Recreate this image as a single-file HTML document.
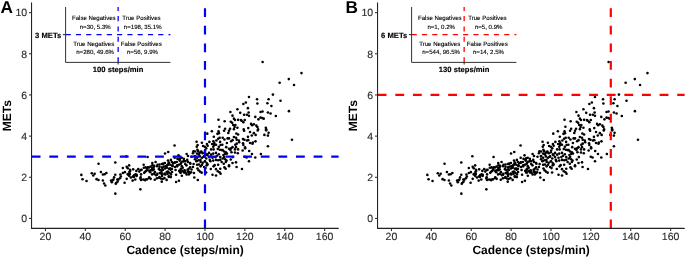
<!DOCTYPE html>
<html><head><meta charset="utf-8"><style>
html,body{margin:0;padding:0;background:#fff;}
svg{display:block;will-change:transform;}
text{font-family:"Liberation Sans",sans-serif;text-rendering:geometricPrecision;}
.tk{font-size:10.5px;fill:#2a2a2a;stroke:#2a2a2a;stroke-width:0.12px;}
.ti{font-size:12px;font-weight:bold;fill:#000;}
.lab{font-size:17.2px;font-weight:bold;fill:#000;}
.it{font-size:7.65px;font-weight:bold;fill:#000;stroke:#000;stroke-width:0.15px;}
.sm{font-size:6.1px;fill:#000;stroke:#000;stroke-width:0.12px;}
</style></head><body>
<svg width="685" height="257" viewBox="0 0 685 257">
<rect width="685" height="257" fill="#fff"/>
<g><g fill="#000">
<circle cx="98.53" cy="163.77" r="1.3"/>
<circle cx="115.28" cy="162.51" r="1.3"/>
<circle cx="81.36" cy="174.90" r="1.3"/>
<circle cx="82.55" cy="179.31" r="1.3"/>
<circle cx="86.55" cy="180.93" r="1.3"/>
<circle cx="91.80" cy="173.22" r="1.3"/>
<circle cx="94.68" cy="173.71" r="1.3"/>
<circle cx="93.28" cy="175.46" r="1.3"/>
<circle cx="96.57" cy="179.17" r="1.3"/>
<circle cx="98.46" cy="180.01" r="1.3"/>
<circle cx="100.91" cy="171.96" r="1.3"/>
<circle cx="102.88" cy="174.55" r="1.3"/>
<circle cx="104.63" cy="174.27" r="1.3"/>
<circle cx="106.38" cy="173.01" r="1.3"/>
<circle cx="102.88" cy="180.51" r="1.3"/>
<circle cx="104.07" cy="183.52" r="1.3"/>
<circle cx="115.28" cy="174.76" r="1.3"/>
<circle cx="114.09" cy="177.42" r="1.3"/>
<circle cx="113.39" cy="179.45" r="1.3"/>
<circle cx="111.07" cy="180.58" r="1.3"/>
<circle cx="111.78" cy="182.26" r="1.3"/>
<circle cx="116.19" cy="183.03" r="1.3"/>
<circle cx="118.29" cy="179.66" r="1.3"/>
<circle cx="119.90" cy="178.26" r="1.3"/>
<circle cx="120.88" cy="176.51" r="1.3"/>
<circle cx="120.39" cy="174.55" r="1.3"/>
<circle cx="122.85" cy="167.96" r="1.3"/>
<circle cx="122.85" cy="173.01" r="1.3"/>
<circle cx="124.81" cy="172.17" r="1.3"/>
<circle cx="124.60" cy="182.82" r="1.3"/>
<circle cx="105.33" cy="185.54" r="1.3"/>
<circle cx="115.35" cy="193.67" r="1.3"/>
<circle cx="126.35" cy="156.27" r="1.3"/>
<circle cx="147.58" cy="156.97" r="1.3"/>
<circle cx="165.03" cy="153.47" r="1.3"/>
<circle cx="168.25" cy="152.06" r="1.3"/>
<circle cx="129.15" cy="165.38" r="1.3"/>
<circle cx="143.66" cy="164.68" r="1.3"/>
<circle cx="152.28" cy="163.07" r="1.3"/>
<circle cx="152.49" cy="165.17" r="1.3"/>
<circle cx="155.57" cy="162.01" r="1.3"/>
<circle cx="157.53" cy="164.82" r="1.3"/>
<circle cx="159.49" cy="164.47" r="1.3"/>
<circle cx="163.14" cy="163.77" r="1.3"/>
<circle cx="164.89" cy="163.07" r="1.3"/>
<circle cx="168.04" cy="160.61" r="1.3"/>
<circle cx="168.88" cy="162.86" r="1.3"/>
<circle cx="170.29" cy="164.82" r="1.3"/>
<circle cx="167.34" cy="165.17" r="1.3"/>
<circle cx="171.90" cy="162.01" r="1.3"/>
<circle cx="173.30" cy="163.28" r="1.3"/>
<circle cx="126.70" cy="166.70" r="1.3"/>
<circle cx="127.75" cy="168.28" r="1.3"/>
<circle cx="129.92" cy="169.68" r="1.3"/>
<circle cx="130.20" cy="170.91" r="1.3"/>
<circle cx="133.18" cy="169.33" r="1.3"/>
<circle cx="136.34" cy="170.91" r="1.3"/>
<circle cx="138.26" cy="169.15" r="1.3"/>
<circle cx="139.31" cy="171.61" r="1.3"/>
<circle cx="140.72" cy="170.03" r="1.3"/>
<circle cx="141.59" cy="169.85" r="1.3"/>
<circle cx="143.87" cy="167.75" r="1.3"/>
<circle cx="145.62" cy="167.40" r="1.3"/>
<circle cx="147.02" cy="168.10" r="1.3"/>
<circle cx="147.90" cy="167.23" r="1.3"/>
<circle cx="144.22" cy="172.83" r="1.3"/>
<circle cx="145.09" cy="171.78" r="1.3"/>
<circle cx="146.15" cy="170.91" r="1.3"/>
<circle cx="147.37" cy="169.85" r="1.3"/>
<circle cx="149.30" cy="170.91" r="1.3"/>
<circle cx="127.75" cy="174.41" r="1.3"/>
<circle cx="129.85" cy="173.88" r="1.3"/>
<circle cx="135.46" cy="174.41" r="1.3"/>
<circle cx="141.07" cy="174.41" r="1.3"/>
<circle cx="150.53" cy="166.53" r="1.3"/>
<circle cx="152.10" cy="168.10" r="1.3"/>
<circle cx="153.50" cy="167.40" r="1.3"/>
<circle cx="153.85" cy="169.50" r="1.3"/>
<circle cx="152.10" cy="170.20" r="1.3"/>
<circle cx="150.70" cy="170.20" r="1.3"/>
<circle cx="154.91" cy="171.96" r="1.3"/>
<circle cx="154.20" cy="174.06" r="1.3"/>
<circle cx="152.10" cy="174.41" r="1.3"/>
<circle cx="157.01" cy="174.76" r="1.3"/>
<circle cx="159.46" cy="166.70" r="1.3"/>
<circle cx="160.51" cy="170.20" r="1.3"/>
<circle cx="159.11" cy="169.15" r="1.3"/>
<circle cx="161.56" cy="171.96" r="1.3"/>
<circle cx="159.81" cy="173.01" r="1.3"/>
<circle cx="162.26" cy="174.41" r="1.3"/>
<circle cx="161.91" cy="167.40" r="1.3"/>
<circle cx="165.07" cy="168.45" r="1.3"/>
<circle cx="166.82" cy="167.75" r="1.3"/>
<circle cx="168.92" cy="168.80" r="1.3"/>
<circle cx="168.22" cy="171.96" r="1.3"/>
<circle cx="169.62" cy="173.01" r="1.3"/>
<circle cx="167.52" cy="174.06" r="1.3"/>
<circle cx="171.02" cy="174.41" r="1.3"/>
<circle cx="171.90" cy="168.98" r="1.3"/>
<circle cx="172.07" cy="171.96" r="1.3"/>
<circle cx="164.72" cy="173.71" r="1.3"/>
<circle cx="157.01" cy="166.18" r="1.3"/>
<circle cx="126.70" cy="178.85" r="1.3"/>
<circle cx="130.91" cy="177.45" r="1.3"/>
<circle cx="132.66" cy="180.61" r="1.3"/>
<circle cx="140.36" cy="178.50" r="1.3"/>
<circle cx="141.07" cy="180.05" r="1.3"/>
<circle cx="143.17" cy="179.55" r="1.3"/>
<circle cx="145.06" cy="180.26" r="1.3"/>
<circle cx="147.02" cy="179.34" r="1.3"/>
<circle cx="149.12" cy="177.94" r="1.3"/>
<circle cx="150.67" cy="178.85" r="1.3"/>
<circle cx="154.73" cy="179.76" r="1.3"/>
<circle cx="156.83" cy="178.36" r="1.3"/>
<circle cx="158.93" cy="177.80" r="1.3"/>
<circle cx="160.90" cy="178.50" r="1.3"/>
<circle cx="162.58" cy="179.06" r="1.3"/>
<circle cx="164.40" cy="178.15" r="1.3"/>
<circle cx="161.74" cy="181.66" r="1.3"/>
<circle cx="166.64" cy="179.91" r="1.3"/>
<circle cx="170.85" cy="177.10" r="1.3"/>
<circle cx="140.36" cy="189.36" r="1.3"/>
<circle cx="136.51" cy="176.05" r="1.3"/>
<circle cx="174.56" cy="145.56" r="1.3"/>
<circle cx="196.56" cy="141.77" r="1.3"/>
<circle cx="197.68" cy="145.07" r="1.3"/>
<circle cx="196.77" cy="146.82" r="1.3"/>
<circle cx="201.89" cy="142.82" r="1.3"/>
<circle cx="203.08" cy="145.98" r="1.3"/>
<circle cx="204.83" cy="146.82" r="1.3"/>
<circle cx="206.93" cy="144.01" r="1.3"/>
<circle cx="207.64" cy="145.77" r="1.3"/>
<circle cx="209.39" cy="141.91" r="1.3"/>
<circle cx="207.28" cy="133.64" r="1.3"/>
<circle cx="211.84" cy="131.26" r="1.3"/>
<circle cx="213.80" cy="136.80" r="1.3"/>
<circle cx="213.38" cy="141.21" r="1.3"/>
<circle cx="214.29" cy="143.17" r="1.3"/>
<circle cx="212.19" cy="144.01" r="1.3"/>
<circle cx="214.08" cy="145.07" r="1.3"/>
<circle cx="216.04" cy="144.72" r="1.3"/>
<circle cx="213.24" cy="146.82" r="1.3"/>
<circle cx="216.39" cy="140.51" r="1.3"/>
<circle cx="218.15" cy="138.76" r="1.3"/>
<circle cx="219.69" cy="137.71" r="1.3"/>
<circle cx="217.45" cy="133.85" r="1.3"/>
<circle cx="218.99" cy="133.15" r="1.3"/>
<circle cx="218.50" cy="131.40" r="1.3"/>
<circle cx="220.11" cy="141.91" r="1.3"/>
<circle cx="218.85" cy="146.68" r="1.3"/>
<circle cx="220.60" cy="145.07" r="1.3"/>
<circle cx="218.50" cy="119.71" r="1.3"/>
<circle cx="219.41" cy="126.72" r="1.3"/>
<circle cx="206.23" cy="148.35" r="1.3"/>
<circle cx="211.14" cy="149.40" r="1.3"/>
<circle cx="213.59" cy="149.40" r="1.3"/>
<circle cx="217.80" cy="149.05" r="1.3"/>
<circle cx="219.90" cy="149.75" r="1.3"/>
<circle cx="221.65" cy="150.10" r="1.3"/>
<circle cx="195.02" cy="151.50" r="1.3"/>
<circle cx="198.18" cy="151.15" r="1.3"/>
<circle cx="201.33" cy="151.50" r="1.3"/>
<circle cx="192.92" cy="153.26" r="1.3"/>
<circle cx="186.61" cy="153.96" r="1.3"/>
<circle cx="188.01" cy="156.06" r="1.3"/>
<circle cx="178.55" cy="155.36" r="1.3"/>
<circle cx="197.12" cy="153.61" r="1.3"/>
<circle cx="199.58" cy="152.91" r="1.3"/>
<circle cx="202.73" cy="153.26" r="1.3"/>
<circle cx="204.83" cy="152.20" r="1.3"/>
<circle cx="206.93" cy="154.31" r="1.3"/>
<circle cx="209.04" cy="152.91" r="1.3"/>
<circle cx="211.14" cy="154.66" r="1.3"/>
<circle cx="213.24" cy="153.61" r="1.3"/>
<circle cx="216.04" cy="152.91" r="1.3"/>
<circle cx="218.85" cy="154.31" r="1.3"/>
<circle cx="217.09" cy="155.71" r="1.3"/>
<circle cx="220.25" cy="157.11" r="1.3"/>
<circle cx="215.34" cy="157.11" r="1.3"/>
<circle cx="212.54" cy="157.81" r="1.3"/>
<circle cx="191.52" cy="156.76" r="1.3"/>
<circle cx="195.02" cy="156.41" r="1.3"/>
<circle cx="197.12" cy="157.81" r="1.3"/>
<circle cx="199.93" cy="156.41" r="1.3"/>
<circle cx="202.03" cy="157.81" r="1.3"/>
<circle cx="204.13" cy="156.41" r="1.3"/>
<circle cx="206.23" cy="158.51" r="1.3"/>
<circle cx="209.04" cy="157.11" r="1.3"/>
<circle cx="174.70" cy="157.81" r="1.3"/>
<circle cx="177.50" cy="158.86" r="1.3"/>
<circle cx="181.71" cy="157.81" r="1.3"/>
<circle cx="183.81" cy="158.86" r="1.3"/>
<circle cx="179.61" cy="160.61" r="1.3"/>
<circle cx="176.80" cy="162.01" r="1.3"/>
<circle cx="174.70" cy="162.72" r="1.3"/>
<circle cx="181.01" cy="163.07" r="1.3"/>
<circle cx="178.91" cy="164.82" r="1.3"/>
<circle cx="185.21" cy="161.31" r="1.3"/>
<circle cx="188.01" cy="162.01" r="1.3"/>
<circle cx="190.12" cy="163.07" r="1.3"/>
<circle cx="195.02" cy="159.21" r="1.3"/>
<circle cx="196.42" cy="161.31" r="1.3"/>
<circle cx="198.53" cy="160.26" r="1.3"/>
<circle cx="200.63" cy="162.01" r="1.3"/>
<circle cx="202.73" cy="162.72" r="1.3"/>
<circle cx="204.83" cy="161.31" r="1.3"/>
<circle cx="206.93" cy="163.42" r="1.3"/>
<circle cx="210.44" cy="161.31" r="1.3"/>
<circle cx="213.24" cy="160.61" r="1.3"/>
<circle cx="216.04" cy="159.91" r="1.3"/>
<circle cx="218.15" cy="160.26" r="1.3"/>
<circle cx="220.25" cy="159.91" r="1.3"/>
<circle cx="221.65" cy="162.01" r="1.3"/>
<circle cx="193.62" cy="164.12" r="1.3"/>
<circle cx="197.12" cy="164.82" r="1.3"/>
<circle cx="202.03" cy="164.82" r="1.3"/>
<circle cx="207.64" cy="164.47" r="1.3"/>
<circle cx="214.64" cy="165.17" r="1.3"/>
<circle cx="218.15" cy="164.82" r="1.3"/>
<circle cx="175.05" cy="167.05" r="1.3"/>
<circle cx="177.15" cy="166.35" r="1.3"/>
<circle cx="179.26" cy="170.91" r="1.3"/>
<circle cx="181.01" cy="168.80" r="1.3"/>
<circle cx="182.76" cy="167.75" r="1.3"/>
<circle cx="180.66" cy="172.66" r="1.3"/>
<circle cx="182.41" cy="170.91" r="1.3"/>
<circle cx="184.51" cy="170.20" r="1.3"/>
<circle cx="185.56" cy="172.66" r="1.3"/>
<circle cx="186.61" cy="174.41" r="1.3"/>
<circle cx="188.01" cy="171.61" r="1.3"/>
<circle cx="188.72" cy="168.80" r="1.3"/>
<circle cx="190.12" cy="167.40" r="1.3"/>
<circle cx="191.52" cy="169.50" r="1.3"/>
<circle cx="192.92" cy="167.05" r="1.3"/>
<circle cx="189.77" cy="173.36" r="1.3"/>
<circle cx="193.97" cy="173.01" r="1.3"/>
<circle cx="197.47" cy="168.45" r="1.3"/>
<circle cx="198.53" cy="170.20" r="1.3"/>
<circle cx="199.93" cy="171.61" r="1.3"/>
<circle cx="201.68" cy="172.66" r="1.3"/>
<circle cx="200.63" cy="166.35" r="1.3"/>
<circle cx="204.13" cy="167.05" r="1.3"/>
<circle cx="205.53" cy="168.10" r="1.3"/>
<circle cx="206.09" cy="172.52" r="1.3"/>
<circle cx="210.79" cy="168.94" r="1.3"/>
<circle cx="216.04" cy="169.15" r="1.3"/>
<circle cx="217.80" cy="171.26" r="1.3"/>
<circle cx="219.55" cy="172.31" r="1.3"/>
<circle cx="220.60" cy="173.71" r="1.3"/>
<circle cx="220.25" cy="168.80" r="1.3"/>
<circle cx="213.59" cy="166.35" r="1.3"/>
<circle cx="212.54" cy="174.76" r="1.3"/>
<circle cx="216.04" cy="175.46" r="1.3"/>
<circle cx="176.10" cy="174.76" r="1.3"/>
<circle cx="181.85" cy="175.81" r="1.3"/>
<circle cx="194.32" cy="177.56" r="1.3"/>
<circle cx="197.82" cy="180.01" r="1.3"/>
<circle cx="176.10" cy="181.98" r="1.3"/>
<circle cx="178.91" cy="180.72" r="1.3"/>
<circle cx="224.45" cy="167.40" r="1.3"/>
<circle cx="225.64" cy="168.80" r="1.3"/>
<circle cx="229.01" cy="166.21" r="1.3"/>
<circle cx="236.58" cy="167.05" r="1.3"/>
<circle cx="241.97" cy="168.94" r="1.3"/>
<circle cx="222.70" cy="150.10" r="1.3"/>
<circle cx="224.10" cy="151.50" r="1.3"/>
<circle cx="225.85" cy="152.20" r="1.3"/>
<circle cx="225.15" cy="153.96" r="1.3"/>
<circle cx="223.40" cy="155.01" r="1.3"/>
<circle cx="226.91" cy="153.61" r="1.3"/>
<circle cx="229.01" cy="148.70" r="1.3"/>
<circle cx="230.41" cy="150.10" r="1.3"/>
<circle cx="231.46" cy="152.20" r="1.3"/>
<circle cx="231.11" cy="148.35" r="1.3"/>
<circle cx="234.96" cy="149.40" r="1.3"/>
<circle cx="238.12" cy="149.40" r="1.3"/>
<circle cx="234.96" cy="152.55" r="1.3"/>
<circle cx="237.77" cy="153.26" r="1.3"/>
<circle cx="242.67" cy="150.45" r="1.3"/>
<circle cx="245.12" cy="148.35" r="1.3"/>
<circle cx="249.19" cy="150.94" r="1.3"/>
<circle cx="251.99" cy="153.96" r="1.3"/>
<circle cx="255.28" cy="157.46" r="1.3"/>
<circle cx="260.89" cy="153.96" r="1.3"/>
<circle cx="244.77" cy="156.76" r="1.3"/>
<circle cx="246.53" cy="157.46" r="1.3"/>
<circle cx="248.98" cy="161.31" r="1.3"/>
<circle cx="232.86" cy="157.11" r="1.3"/>
<circle cx="230.76" cy="159.56" r="1.3"/>
<circle cx="222.70" cy="158.51" r="1.3"/>
<circle cx="225.15" cy="159.21" r="1.3"/>
<circle cx="226.55" cy="160.61" r="1.3"/>
<circle cx="224.10" cy="157.11" r="1.3"/>
<circle cx="232.51" cy="163.07" r="1.3"/>
<circle cx="236.01" cy="162.36" r="1.3"/>
<circle cx="223.75" cy="163.77" r="1.3"/>
<circle cx="229.01" cy="165.38" r="1.3"/>
<circle cx="225.85" cy="162.01" r="1.3"/>
<circle cx="224.10" cy="130.70" r="1.3"/>
<circle cx="229.01" cy="130.70" r="1.3"/>
<circle cx="228.31" cy="132.94" r="1.3"/>
<circle cx="236.36" cy="133.50" r="1.3"/>
<circle cx="238.12" cy="134.55" r="1.3"/>
<circle cx="222.70" cy="137.71" r="1.3"/>
<circle cx="224.45" cy="139.46" r="1.3"/>
<circle cx="227.61" cy="138.41" r="1.3"/>
<circle cx="229.01" cy="138.41" r="1.3"/>
<circle cx="231.11" cy="141.21" r="1.3"/>
<circle cx="232.51" cy="140.16" r="1.3"/>
<circle cx="233.91" cy="137.01" r="1.3"/>
<circle cx="236.01" cy="137.71" r="1.3"/>
<circle cx="236.72" cy="139.81" r="1.3"/>
<circle cx="238.82" cy="140.51" r="1.3"/>
<circle cx="239.17" cy="142.26" r="1.3"/>
<circle cx="226.91" cy="142.96" r="1.3"/>
<circle cx="222.35" cy="144.72" r="1.3"/>
<circle cx="235.31" cy="144.72" r="1.3"/>
<circle cx="236.72" cy="143.66" r="1.3"/>
<circle cx="243.02" cy="139.11" r="1.3"/>
<circle cx="244.42" cy="139.81" r="1.3"/>
<circle cx="246.88" cy="140.51" r="1.3"/>
<circle cx="248.28" cy="140.16" r="1.3"/>
<circle cx="247.93" cy="136.87" r="1.3"/>
<circle cx="250.03" cy="142.96" r="1.3"/>
<circle cx="252.48" cy="143.66" r="1.3"/>
<circle cx="252.83" cy="142.61" r="1.3"/>
<circle cx="255.49" cy="141.35" r="1.3"/>
<circle cx="243.02" cy="143.31" r="1.3"/>
<circle cx="243.37" cy="145.07" r="1.3"/>
<circle cx="244.07" cy="130.70" r="1.3"/>
<circle cx="250.03" cy="131.96" r="1.3"/>
<circle cx="257.74" cy="130.56" r="1.3"/>
<circle cx="251.78" cy="135.47" r="1.3"/>
<circle cx="253.88" cy="133.15" r="1.3"/>
<circle cx="255.64" cy="134.91" r="1.3"/>
<circle cx="264.39" cy="134.91" r="1.3"/>
<circle cx="267.90" cy="135.61" r="1.3"/>
<circle cx="268.60" cy="132.80" r="1.3"/>
<circle cx="266.15" cy="130.35" r="1.3"/>
<circle cx="267.90" cy="146.26" r="1.3"/>
<circle cx="226.20" cy="147.17" r="1.3"/>
<circle cx="232.51" cy="147.17" r="1.3"/>
<circle cx="236.01" cy="147.17" r="1.3"/>
<circle cx="245.12" cy="147.38" r="1.3"/>
<circle cx="230.41" cy="112.00" r="1.3"/>
<circle cx="240.22" cy="112.84" r="1.3"/>
<circle cx="248.63" cy="112.56" r="1.3"/>
<circle cx="260.54" cy="112.00" r="1.3"/>
<circle cx="267.90" cy="112.56" r="1.3"/>
<circle cx="232.51" cy="115.64" r="1.3"/>
<circle cx="244.07" cy="114.80" r="1.3"/>
<circle cx="246.88" cy="114.80" r="1.3"/>
<circle cx="248.98" cy="115.85" r="1.3"/>
<circle cx="255.28" cy="116.91" r="1.3"/>
<circle cx="258.44" cy="119.36" r="1.3"/>
<circle cx="260.54" cy="117.61" r="1.3"/>
<circle cx="262.29" cy="117.96" r="1.3"/>
<circle cx="263.69" cy="118.66" r="1.3"/>
<circle cx="233.91" cy="118.66" r="1.3"/>
<circle cx="234.96" cy="120.06" r="1.3"/>
<circle cx="238.12" cy="119.85" r="1.3"/>
<circle cx="240.92" cy="120.06" r="1.3"/>
<circle cx="241.62" cy="120.76" r="1.3"/>
<circle cx="244.77" cy="120.06" r="1.3"/>
<circle cx="243.37" cy="122.16" r="1.3"/>
<circle cx="224.66" cy="121.25" r="1.3"/>
<circle cx="230.76" cy="121.81" r="1.3"/>
<circle cx="232.16" cy="122.86" r="1.3"/>
<circle cx="233.21" cy="124.96" r="1.3"/>
<circle cx="235.31" cy="124.96" r="1.3"/>
<circle cx="234.61" cy="127.07" r="1.3"/>
<circle cx="237.42" cy="127.77" r="1.3"/>
<circle cx="251.08" cy="123.91" r="1.3"/>
<circle cx="252.13" cy="125.31" r="1.3"/>
<circle cx="253.88" cy="124.26" r="1.3"/>
<circle cx="256.34" cy="125.66" r="1.3"/>
<circle cx="257.39" cy="127.07" r="1.3"/>
<circle cx="248.28" cy="128.12" r="1.3"/>
<circle cx="265.80" cy="127.77" r="1.3"/>
<circle cx="266.15" cy="129.17" r="1.3"/>
<circle cx="225.15" cy="128.82" r="1.3"/>
<circle cx="230.06" cy="128.82" r="1.3"/>
<circle cx="233.91" cy="129.17" r="1.3"/>
<circle cx="243.72" cy="129.38" r="1.3"/>
<circle cx="258.09" cy="129.38" r="1.3"/>
<circle cx="248.98" cy="96.94" r="1.3"/>
<circle cx="257.04" cy="99.26" r="1.3"/>
<circle cx="268.60" cy="99.26" r="1.3"/>
<circle cx="257.39" cy="103.46" r="1.3"/>
<circle cx="267.41" cy="103.32" r="1.3"/>
<circle cx="245.82" cy="102.55" r="1.3"/>
<circle cx="243.37" cy="103.95" r="1.3"/>
<circle cx="247.93" cy="108.15" r="1.3"/>
<circle cx="237.42" cy="109.28" r="1.3"/>
<circle cx="262.50" cy="111.52" r="1.3"/>
<circle cx="262.62" cy="61.99" r="1.3"/>
<circle cx="301.49" cy="73.11" r="1.3"/>
<circle cx="288.79" cy="79.08" r="1.3"/>
<circle cx="294.02" cy="85.06" r="1.3"/>
<circle cx="279.63" cy="82.82" r="1.3"/>
<circle cx="272.91" cy="94.58" r="1.3"/>
<circle cx="280.51" cy="100.80" r="1.3"/>
<circle cx="271.40" cy="106.05" r="1.3"/>
<circle cx="288.92" cy="111.17" r="1.3"/>
<circle cx="270.56" cy="113.54" r="1.3"/>
<circle cx="275.82" cy="115.99" r="1.3"/>
<circle cx="291.97" cy="139.80" r="1.3"/>
<circle cx="161.88" cy="164.01" r="1.3"/>
<circle cx="165.39" cy="166.35" r="1.3"/>
<circle cx="168.89" cy="162.85" r="1.3"/>
<circle cx="172.39" cy="165.18" r="1.3"/>
<circle cx="170.06" cy="168.69" r="1.3"/>
<circle cx="163.05" cy="169.85" r="1.3"/>
<circle cx="179.40" cy="159.34" r="1.3"/>
<circle cx="181.74" cy="161.68" r="1.3"/>
<circle cx="184.07" cy="160.51" r="1.3"/>
<circle cx="180.57" cy="164.01" r="1.3"/>
<circle cx="185.24" cy="164.01" r="1.3"/>
<circle cx="180.57" cy="169.85" r="1.3"/>
<circle cx="184.07" cy="172.19" r="1.3"/>
<circle cx="187.58" cy="169.85" r="1.3"/>
<circle cx="191.08" cy="172.19" r="1.3"/>
<circle cx="188.74" cy="174.53" r="1.3"/>
<circle cx="149.04" cy="167.52" r="1.3"/>
<circle cx="152.54" cy="169.85" r="1.3"/>
<circle cx="154.88" cy="172.19" r="1.3"/>
<circle cx="150.20" cy="172.19" r="1.3"/>
<circle cx="160.72" cy="173.36" r="1.3"/>
<circle cx="165.39" cy="174.53" r="1.3"/>
<circle cx="168.89" cy="176.86" r="1.3"/>
<circle cx="115.75" cy="183.78" r="1.3"/>
<circle cx="117.50" cy="181.68" r="1.3"/>
<circle cx="129.18" cy="175.84" r="1.3"/>
<circle cx="133.85" cy="177.01" r="1.3"/>
<circle cx="156.04" cy="175.26" r="1.3"/>
<circle cx="159.55" cy="177.01" r="1.3"/>
<circle cx="168.89" cy="176.42" r="1.3"/>
<circle cx="128.01" cy="174.09" r="1.3"/>
<circle cx="184.07" cy="172.34" r="1.3"/>
<circle cx="188.74" cy="171.75" r="1.3"/>
<circle cx="163.11" cy="163.79" r="1.3"/>
<circle cx="166.23" cy="166.13" r="1.3"/>
<circle cx="162.33" cy="169.24" r="1.3"/>
<circle cx="167.78" cy="171.58" r="1.3"/>
<circle cx="164.67" cy="173.91" r="1.3"/>
<circle cx="170.89" cy="159.90" r="1.3"/>
<circle cx="174.79" cy="162.24" r="1.3"/>
<circle cx="172.45" cy="166.13" r="1.3"/>
<circle cx="177.12" cy="165.35" r="1.3"/>
<circle cx="175.56" cy="170.02" r="1.3"/>
<circle cx="170.12" cy="168.46" r="1.3"/>
<circle cx="180.23" cy="158.35" r="1.3"/>
<circle cx="183.35" cy="161.46" r="1.3"/>
<circle cx="187.24" cy="159.90" r="1.3"/>
<circle cx="181.79" cy="166.13" r="1.3"/>
<circle cx="186.46" cy="165.35" r="1.3"/>
<circle cx="190.35" cy="163.79" r="1.3"/>
<circle cx="184.90" cy="170.80" r="1.3"/>
<circle cx="188.79" cy="172.35" r="1.3"/>
<circle cx="180.23" cy="172.35" r="1.3"/>
<circle cx="193.46" cy="151.34" r="1.3"/>
<circle cx="197.35" cy="149.79" r="1.3"/>
<circle cx="201.25" cy="152.12" r="1.3"/>
<circle cx="205.14" cy="150.56" r="1.3"/>
<circle cx="195.02" cy="156.01" r="1.3"/>
<circle cx="198.91" cy="154.46" r="1.3"/>
<circle cx="203.58" cy="156.79" r="1.3"/>
<circle cx="207.47" cy="155.23" r="1.3"/>
<circle cx="196.58" cy="160.68" r="1.3"/>
<circle cx="200.47" cy="159.90" r="1.3"/>
<circle cx="205.14" cy="161.46" r="1.3"/>
<circle cx="209.81" cy="159.90" r="1.3"/>
<circle cx="198.91" cy="164.57" r="1.3"/>
<circle cx="206.69" cy="165.35" r="1.3"/>
<circle cx="132.91" cy="176.46" r="1.3"/>
<circle cx="136.80" cy="174.90" r="1.3"/>
<circle cx="135.25" cy="179.57" r="1.3"/>
<circle cx="112.68" cy="180.35" r="1.3"/>
<circle cx="117.35" cy="179.57" r="1.3"/>
<circle cx="140.69" cy="177.24" r="1.3"/>
<circle cx="145.36" cy="179.57" r="1.3"/>
<circle cx="149.25" cy="177.24" r="1.3"/>
<circle cx="154.24" cy="165.89" r="1.3"/>
<circle cx="158.91" cy="169.01" r="1.3"/>
<circle cx="163.58" cy="166.67" r="1.3"/>
<circle cx="168.25" cy="164.34" r="1.3"/>
<circle cx="157.35" cy="173.68" r="1.3"/>
<circle cx="162.02" cy="176.01" r="1.3"/>
<circle cx="166.69" cy="172.12" r="1.3"/>
<circle cx="170.58" cy="169.79" r="1.3"/>
<circle cx="129.34" cy="172.12" r="1.3"/>
<circle cx="134.01" cy="175.23" r="1.3"/>
</g>
<line x1="204.98000000000002" y1="228.4" x2="204.98000000000002" y2="2.5" stroke="#0000ff" stroke-width="2.2" stroke-dasharray="8.81 8.81"/>
<line x1="31.7" y1="156.701" x2="338.6" y2="156.701" stroke="#0000ff" stroke-width="2.2" stroke-dasharray="8.81 8.81"/>
<path d="M31.55 2.9 V228.4 H338.3" fill="none" stroke="#222" stroke-width="1.07" stroke-linejoin="round" stroke-linecap="round"/>
<line x1="29.0" y1="218.45" x2="31.7" y2="218.45" stroke="#333" stroke-width="1.1"/>
<text x="27.2" y="222.30" text-anchor="end" class="tk">0</text>
<line x1="29.0" y1="177.28" x2="31.7" y2="177.28" stroke="#333" stroke-width="1.1"/>
<text x="27.2" y="181.13" text-anchor="end" class="tk">2</text>
<line x1="29.0" y1="136.12" x2="31.7" y2="136.12" stroke="#333" stroke-width="1.1"/>
<text x="27.2" y="139.97" text-anchor="end" class="tk">4</text>
<line x1="29.0" y1="94.95" x2="31.7" y2="94.95" stroke="#333" stroke-width="1.1"/>
<text x="27.2" y="98.80" text-anchor="end" class="tk">6</text>
<line x1="29.0" y1="53.79" x2="31.7" y2="53.79" stroke="#333" stroke-width="1.1"/>
<text x="27.2" y="57.64" text-anchor="end" class="tk">8</text>
<line x1="29.0" y1="12.62" x2="31.7" y2="12.62" stroke="#333" stroke-width="1.1"/>
<text x="27.2" y="16.47" text-anchor="end" class="tk">10</text>
<line x1="45.46" y1="228.4" x2="45.46" y2="231.1" stroke="#333" stroke-width="1.1"/>
<text x="45.46" y="240.4" text-anchor="middle" class="tk">20</text>
<line x1="85.34" y1="228.4" x2="85.34" y2="231.1" stroke="#333" stroke-width="1.1"/>
<text x="85.34" y="240.4" text-anchor="middle" class="tk">40</text>
<line x1="125.22" y1="228.4" x2="125.22" y2="231.1" stroke="#333" stroke-width="1.1"/>
<text x="125.22" y="240.4" text-anchor="middle" class="tk">60</text>
<line x1="165.10" y1="228.4" x2="165.10" y2="231.1" stroke="#333" stroke-width="1.1"/>
<text x="165.10" y="240.4" text-anchor="middle" class="tk">80</text>
<line x1="204.98" y1="228.4" x2="204.98" y2="231.1" stroke="#333" stroke-width="1.1"/>
<text x="204.98" y="240.4" text-anchor="middle" class="tk">100</text>
<line x1="244.86" y1="228.4" x2="244.86" y2="231.1" stroke="#333" stroke-width="1.1"/>
<text x="244.86" y="240.4" text-anchor="middle" class="tk">120</text>
<line x1="284.74" y1="228.4" x2="284.74" y2="231.1" stroke="#333" stroke-width="1.1"/>
<text x="284.74" y="240.4" text-anchor="middle" class="tk">140</text>
<line x1="324.62" y1="228.4" x2="324.62" y2="231.1" stroke="#333" stroke-width="1.1"/>
<text x="324.62" y="240.4" text-anchor="middle" class="tk">160</text>
<text x="185.1" y="253.9" text-anchor="middle" class="ti">Cadence (steps/min)</text>
<text transform="translate(11.2 115.6) rotate(-90)" text-anchor="middle" class="ti">METs</text>
<text x="0.6" y="12.6" class="lab">A</text>
<line x1="118.15" y1="62.4" x2="118.15" y2="7.0" stroke="#0000ff" stroke-width="1.29" stroke-dasharray="5.145 5.145"/>
<line x1="65.6" y1="34.6" x2="170.4" y2="34.6" stroke="#0000ff" stroke-width="1.29" stroke-dasharray="5.145 5.145"/>
<path d="M65.6 7.0 V62.4 H170.4" fill="none" stroke="#333" stroke-width="1.0" stroke-linejoin="round"/>
<line x1="62.89999999999999" y1="34.6" x2="65.6" y2="34.6" stroke="#333" stroke-width="1.1"/>
<line x1="118.15" y1="62.4" x2="118.15" y2="64.4" stroke="#333" stroke-width="1.1"/>
<text x="61.3" y="37.8" text-anchor="end" class="it">3 METs</text>
<text x="118.1" y="72.2" text-anchor="middle" class="it">100 steps/min</text>
<text x="93.8" y="20.3" text-anchor="middle" class="sm">False Negatives</text>
<text x="95.2" y="29.2" text-anchor="middle" class="sm">n=30, 5.3%</text>
<text x="141.4" y="20.3" text-anchor="middle" class="sm">True Positives</text>
<text x="142.7" y="29.2" text-anchor="middle" class="sm">n=198, 35.1%</text>
<text x="93.7" y="45.55" text-anchor="middle" class="sm">True Negatives</text>
<text x="95.1" y="53.8" text-anchor="middle" class="sm">n=280, 49.6%</text>
<text x="141.2" y="45.55" text-anchor="middle" class="sm">False Positives</text>
<text x="142.5" y="54.1" text-anchor="middle" class="sm">n=56, 9.9%</text></g>
<g transform="translate(346 0)"><g fill="#000">
<circle cx="98.53" cy="163.77" r="1.3"/>
<circle cx="115.28" cy="162.51" r="1.3"/>
<circle cx="81.36" cy="174.90" r="1.3"/>
<circle cx="82.55" cy="179.31" r="1.3"/>
<circle cx="86.55" cy="180.93" r="1.3"/>
<circle cx="91.80" cy="173.22" r="1.3"/>
<circle cx="94.68" cy="173.71" r="1.3"/>
<circle cx="93.28" cy="175.46" r="1.3"/>
<circle cx="96.57" cy="179.17" r="1.3"/>
<circle cx="98.46" cy="180.01" r="1.3"/>
<circle cx="100.91" cy="171.96" r="1.3"/>
<circle cx="102.88" cy="174.55" r="1.3"/>
<circle cx="104.63" cy="174.27" r="1.3"/>
<circle cx="106.38" cy="173.01" r="1.3"/>
<circle cx="102.88" cy="180.51" r="1.3"/>
<circle cx="104.07" cy="183.52" r="1.3"/>
<circle cx="115.28" cy="174.76" r="1.3"/>
<circle cx="114.09" cy="177.42" r="1.3"/>
<circle cx="113.39" cy="179.45" r="1.3"/>
<circle cx="111.07" cy="180.58" r="1.3"/>
<circle cx="111.78" cy="182.26" r="1.3"/>
<circle cx="116.19" cy="183.03" r="1.3"/>
<circle cx="118.29" cy="179.66" r="1.3"/>
<circle cx="119.90" cy="178.26" r="1.3"/>
<circle cx="120.88" cy="176.51" r="1.3"/>
<circle cx="120.39" cy="174.55" r="1.3"/>
<circle cx="122.85" cy="167.96" r="1.3"/>
<circle cx="122.85" cy="173.01" r="1.3"/>
<circle cx="124.81" cy="172.17" r="1.3"/>
<circle cx="124.60" cy="182.82" r="1.3"/>
<circle cx="105.33" cy="185.54" r="1.3"/>
<circle cx="115.35" cy="193.67" r="1.3"/>
<circle cx="126.35" cy="156.27" r="1.3"/>
<circle cx="147.58" cy="156.97" r="1.3"/>
<circle cx="165.03" cy="153.47" r="1.3"/>
<circle cx="168.25" cy="152.06" r="1.3"/>
<circle cx="129.15" cy="165.38" r="1.3"/>
<circle cx="143.66" cy="164.68" r="1.3"/>
<circle cx="152.28" cy="163.07" r="1.3"/>
<circle cx="152.49" cy="165.17" r="1.3"/>
<circle cx="155.57" cy="162.01" r="1.3"/>
<circle cx="157.53" cy="164.82" r="1.3"/>
<circle cx="159.49" cy="164.47" r="1.3"/>
<circle cx="163.14" cy="163.77" r="1.3"/>
<circle cx="164.89" cy="163.07" r="1.3"/>
<circle cx="168.04" cy="160.61" r="1.3"/>
<circle cx="168.88" cy="162.86" r="1.3"/>
<circle cx="170.29" cy="164.82" r="1.3"/>
<circle cx="167.34" cy="165.17" r="1.3"/>
<circle cx="171.90" cy="162.01" r="1.3"/>
<circle cx="173.30" cy="163.28" r="1.3"/>
<circle cx="126.70" cy="166.70" r="1.3"/>
<circle cx="127.75" cy="168.28" r="1.3"/>
<circle cx="129.92" cy="169.68" r="1.3"/>
<circle cx="130.20" cy="170.91" r="1.3"/>
<circle cx="133.18" cy="169.33" r="1.3"/>
<circle cx="136.34" cy="170.91" r="1.3"/>
<circle cx="138.26" cy="169.15" r="1.3"/>
<circle cx="139.31" cy="171.61" r="1.3"/>
<circle cx="140.72" cy="170.03" r="1.3"/>
<circle cx="141.59" cy="169.85" r="1.3"/>
<circle cx="143.87" cy="167.75" r="1.3"/>
<circle cx="145.62" cy="167.40" r="1.3"/>
<circle cx="147.02" cy="168.10" r="1.3"/>
<circle cx="147.90" cy="167.23" r="1.3"/>
<circle cx="144.22" cy="172.83" r="1.3"/>
<circle cx="145.09" cy="171.78" r="1.3"/>
<circle cx="146.15" cy="170.91" r="1.3"/>
<circle cx="147.37" cy="169.85" r="1.3"/>
<circle cx="149.30" cy="170.91" r="1.3"/>
<circle cx="127.75" cy="174.41" r="1.3"/>
<circle cx="129.85" cy="173.88" r="1.3"/>
<circle cx="135.46" cy="174.41" r="1.3"/>
<circle cx="141.07" cy="174.41" r="1.3"/>
<circle cx="150.53" cy="166.53" r="1.3"/>
<circle cx="152.10" cy="168.10" r="1.3"/>
<circle cx="153.50" cy="167.40" r="1.3"/>
<circle cx="153.85" cy="169.50" r="1.3"/>
<circle cx="152.10" cy="170.20" r="1.3"/>
<circle cx="150.70" cy="170.20" r="1.3"/>
<circle cx="154.91" cy="171.96" r="1.3"/>
<circle cx="154.20" cy="174.06" r="1.3"/>
<circle cx="152.10" cy="174.41" r="1.3"/>
<circle cx="157.01" cy="174.76" r="1.3"/>
<circle cx="159.46" cy="166.70" r="1.3"/>
<circle cx="160.51" cy="170.20" r="1.3"/>
<circle cx="159.11" cy="169.15" r="1.3"/>
<circle cx="161.56" cy="171.96" r="1.3"/>
<circle cx="159.81" cy="173.01" r="1.3"/>
<circle cx="162.26" cy="174.41" r="1.3"/>
<circle cx="161.91" cy="167.40" r="1.3"/>
<circle cx="165.07" cy="168.45" r="1.3"/>
<circle cx="166.82" cy="167.75" r="1.3"/>
<circle cx="168.92" cy="168.80" r="1.3"/>
<circle cx="168.22" cy="171.96" r="1.3"/>
<circle cx="169.62" cy="173.01" r="1.3"/>
<circle cx="167.52" cy="174.06" r="1.3"/>
<circle cx="171.02" cy="174.41" r="1.3"/>
<circle cx="171.90" cy="168.98" r="1.3"/>
<circle cx="172.07" cy="171.96" r="1.3"/>
<circle cx="164.72" cy="173.71" r="1.3"/>
<circle cx="157.01" cy="166.18" r="1.3"/>
<circle cx="126.70" cy="178.85" r="1.3"/>
<circle cx="130.91" cy="177.45" r="1.3"/>
<circle cx="132.66" cy="180.61" r="1.3"/>
<circle cx="140.36" cy="178.50" r="1.3"/>
<circle cx="141.07" cy="180.05" r="1.3"/>
<circle cx="143.17" cy="179.55" r="1.3"/>
<circle cx="145.06" cy="180.26" r="1.3"/>
<circle cx="147.02" cy="179.34" r="1.3"/>
<circle cx="149.12" cy="177.94" r="1.3"/>
<circle cx="150.67" cy="178.85" r="1.3"/>
<circle cx="154.73" cy="179.76" r="1.3"/>
<circle cx="156.83" cy="178.36" r="1.3"/>
<circle cx="158.93" cy="177.80" r="1.3"/>
<circle cx="160.90" cy="178.50" r="1.3"/>
<circle cx="162.58" cy="179.06" r="1.3"/>
<circle cx="164.40" cy="178.15" r="1.3"/>
<circle cx="161.74" cy="181.66" r="1.3"/>
<circle cx="166.64" cy="179.91" r="1.3"/>
<circle cx="170.85" cy="177.10" r="1.3"/>
<circle cx="140.36" cy="189.36" r="1.3"/>
<circle cx="136.51" cy="176.05" r="1.3"/>
<circle cx="174.56" cy="145.56" r="1.3"/>
<circle cx="196.56" cy="141.77" r="1.3"/>
<circle cx="197.68" cy="145.07" r="1.3"/>
<circle cx="196.77" cy="146.82" r="1.3"/>
<circle cx="201.89" cy="142.82" r="1.3"/>
<circle cx="203.08" cy="145.98" r="1.3"/>
<circle cx="204.83" cy="146.82" r="1.3"/>
<circle cx="206.93" cy="144.01" r="1.3"/>
<circle cx="207.64" cy="145.77" r="1.3"/>
<circle cx="209.39" cy="141.91" r="1.3"/>
<circle cx="207.28" cy="133.64" r="1.3"/>
<circle cx="211.84" cy="131.26" r="1.3"/>
<circle cx="213.80" cy="136.80" r="1.3"/>
<circle cx="213.38" cy="141.21" r="1.3"/>
<circle cx="214.29" cy="143.17" r="1.3"/>
<circle cx="212.19" cy="144.01" r="1.3"/>
<circle cx="214.08" cy="145.07" r="1.3"/>
<circle cx="216.04" cy="144.72" r="1.3"/>
<circle cx="213.24" cy="146.82" r="1.3"/>
<circle cx="216.39" cy="140.51" r="1.3"/>
<circle cx="218.15" cy="138.76" r="1.3"/>
<circle cx="219.69" cy="137.71" r="1.3"/>
<circle cx="217.45" cy="133.85" r="1.3"/>
<circle cx="218.99" cy="133.15" r="1.3"/>
<circle cx="218.50" cy="131.40" r="1.3"/>
<circle cx="220.11" cy="141.91" r="1.3"/>
<circle cx="218.85" cy="146.68" r="1.3"/>
<circle cx="220.60" cy="145.07" r="1.3"/>
<circle cx="218.50" cy="119.71" r="1.3"/>
<circle cx="219.41" cy="126.72" r="1.3"/>
<circle cx="206.23" cy="148.35" r="1.3"/>
<circle cx="211.14" cy="149.40" r="1.3"/>
<circle cx="213.59" cy="149.40" r="1.3"/>
<circle cx="217.80" cy="149.05" r="1.3"/>
<circle cx="219.90" cy="149.75" r="1.3"/>
<circle cx="221.65" cy="150.10" r="1.3"/>
<circle cx="195.02" cy="151.50" r="1.3"/>
<circle cx="198.18" cy="151.15" r="1.3"/>
<circle cx="201.33" cy="151.50" r="1.3"/>
<circle cx="192.92" cy="153.26" r="1.3"/>
<circle cx="186.61" cy="153.96" r="1.3"/>
<circle cx="188.01" cy="156.06" r="1.3"/>
<circle cx="178.55" cy="155.36" r="1.3"/>
<circle cx="197.12" cy="153.61" r="1.3"/>
<circle cx="199.58" cy="152.91" r="1.3"/>
<circle cx="202.73" cy="153.26" r="1.3"/>
<circle cx="204.83" cy="152.20" r="1.3"/>
<circle cx="206.93" cy="154.31" r="1.3"/>
<circle cx="209.04" cy="152.91" r="1.3"/>
<circle cx="211.14" cy="154.66" r="1.3"/>
<circle cx="213.24" cy="153.61" r="1.3"/>
<circle cx="216.04" cy="152.91" r="1.3"/>
<circle cx="218.85" cy="154.31" r="1.3"/>
<circle cx="217.09" cy="155.71" r="1.3"/>
<circle cx="220.25" cy="157.11" r="1.3"/>
<circle cx="215.34" cy="157.11" r="1.3"/>
<circle cx="212.54" cy="157.81" r="1.3"/>
<circle cx="191.52" cy="156.76" r="1.3"/>
<circle cx="195.02" cy="156.41" r="1.3"/>
<circle cx="197.12" cy="157.81" r="1.3"/>
<circle cx="199.93" cy="156.41" r="1.3"/>
<circle cx="202.03" cy="157.81" r="1.3"/>
<circle cx="204.13" cy="156.41" r="1.3"/>
<circle cx="206.23" cy="158.51" r="1.3"/>
<circle cx="209.04" cy="157.11" r="1.3"/>
<circle cx="174.70" cy="157.81" r="1.3"/>
<circle cx="177.50" cy="158.86" r="1.3"/>
<circle cx="181.71" cy="157.81" r="1.3"/>
<circle cx="183.81" cy="158.86" r="1.3"/>
<circle cx="179.61" cy="160.61" r="1.3"/>
<circle cx="176.80" cy="162.01" r="1.3"/>
<circle cx="174.70" cy="162.72" r="1.3"/>
<circle cx="181.01" cy="163.07" r="1.3"/>
<circle cx="178.91" cy="164.82" r="1.3"/>
<circle cx="185.21" cy="161.31" r="1.3"/>
<circle cx="188.01" cy="162.01" r="1.3"/>
<circle cx="190.12" cy="163.07" r="1.3"/>
<circle cx="195.02" cy="159.21" r="1.3"/>
<circle cx="196.42" cy="161.31" r="1.3"/>
<circle cx="198.53" cy="160.26" r="1.3"/>
<circle cx="200.63" cy="162.01" r="1.3"/>
<circle cx="202.73" cy="162.72" r="1.3"/>
<circle cx="204.83" cy="161.31" r="1.3"/>
<circle cx="206.93" cy="163.42" r="1.3"/>
<circle cx="210.44" cy="161.31" r="1.3"/>
<circle cx="213.24" cy="160.61" r="1.3"/>
<circle cx="216.04" cy="159.91" r="1.3"/>
<circle cx="218.15" cy="160.26" r="1.3"/>
<circle cx="220.25" cy="159.91" r="1.3"/>
<circle cx="221.65" cy="162.01" r="1.3"/>
<circle cx="193.62" cy="164.12" r="1.3"/>
<circle cx="197.12" cy="164.82" r="1.3"/>
<circle cx="202.03" cy="164.82" r="1.3"/>
<circle cx="207.64" cy="164.47" r="1.3"/>
<circle cx="214.64" cy="165.17" r="1.3"/>
<circle cx="218.15" cy="164.82" r="1.3"/>
<circle cx="175.05" cy="167.05" r="1.3"/>
<circle cx="177.15" cy="166.35" r="1.3"/>
<circle cx="179.26" cy="170.91" r="1.3"/>
<circle cx="181.01" cy="168.80" r="1.3"/>
<circle cx="182.76" cy="167.75" r="1.3"/>
<circle cx="180.66" cy="172.66" r="1.3"/>
<circle cx="182.41" cy="170.91" r="1.3"/>
<circle cx="184.51" cy="170.20" r="1.3"/>
<circle cx="185.56" cy="172.66" r="1.3"/>
<circle cx="186.61" cy="174.41" r="1.3"/>
<circle cx="188.01" cy="171.61" r="1.3"/>
<circle cx="188.72" cy="168.80" r="1.3"/>
<circle cx="190.12" cy="167.40" r="1.3"/>
<circle cx="191.52" cy="169.50" r="1.3"/>
<circle cx="192.92" cy="167.05" r="1.3"/>
<circle cx="189.77" cy="173.36" r="1.3"/>
<circle cx="193.97" cy="173.01" r="1.3"/>
<circle cx="197.47" cy="168.45" r="1.3"/>
<circle cx="198.53" cy="170.20" r="1.3"/>
<circle cx="199.93" cy="171.61" r="1.3"/>
<circle cx="201.68" cy="172.66" r="1.3"/>
<circle cx="200.63" cy="166.35" r="1.3"/>
<circle cx="204.13" cy="167.05" r="1.3"/>
<circle cx="205.53" cy="168.10" r="1.3"/>
<circle cx="206.09" cy="172.52" r="1.3"/>
<circle cx="210.79" cy="168.94" r="1.3"/>
<circle cx="216.04" cy="169.15" r="1.3"/>
<circle cx="217.80" cy="171.26" r="1.3"/>
<circle cx="219.55" cy="172.31" r="1.3"/>
<circle cx="220.60" cy="173.71" r="1.3"/>
<circle cx="220.25" cy="168.80" r="1.3"/>
<circle cx="213.59" cy="166.35" r="1.3"/>
<circle cx="212.54" cy="174.76" r="1.3"/>
<circle cx="216.04" cy="175.46" r="1.3"/>
<circle cx="176.10" cy="174.76" r="1.3"/>
<circle cx="181.85" cy="175.81" r="1.3"/>
<circle cx="194.32" cy="177.56" r="1.3"/>
<circle cx="197.82" cy="180.01" r="1.3"/>
<circle cx="176.10" cy="181.98" r="1.3"/>
<circle cx="178.91" cy="180.72" r="1.3"/>
<circle cx="224.45" cy="167.40" r="1.3"/>
<circle cx="225.64" cy="168.80" r="1.3"/>
<circle cx="229.01" cy="166.21" r="1.3"/>
<circle cx="236.58" cy="167.05" r="1.3"/>
<circle cx="241.97" cy="168.94" r="1.3"/>
<circle cx="222.70" cy="150.10" r="1.3"/>
<circle cx="224.10" cy="151.50" r="1.3"/>
<circle cx="225.85" cy="152.20" r="1.3"/>
<circle cx="225.15" cy="153.96" r="1.3"/>
<circle cx="223.40" cy="155.01" r="1.3"/>
<circle cx="226.91" cy="153.61" r="1.3"/>
<circle cx="229.01" cy="148.70" r="1.3"/>
<circle cx="230.41" cy="150.10" r="1.3"/>
<circle cx="231.46" cy="152.20" r="1.3"/>
<circle cx="231.11" cy="148.35" r="1.3"/>
<circle cx="234.96" cy="149.40" r="1.3"/>
<circle cx="238.12" cy="149.40" r="1.3"/>
<circle cx="234.96" cy="152.55" r="1.3"/>
<circle cx="237.77" cy="153.26" r="1.3"/>
<circle cx="242.67" cy="150.45" r="1.3"/>
<circle cx="245.12" cy="148.35" r="1.3"/>
<circle cx="249.19" cy="150.94" r="1.3"/>
<circle cx="251.99" cy="153.96" r="1.3"/>
<circle cx="255.28" cy="157.46" r="1.3"/>
<circle cx="260.89" cy="153.96" r="1.3"/>
<circle cx="244.77" cy="156.76" r="1.3"/>
<circle cx="246.53" cy="157.46" r="1.3"/>
<circle cx="248.98" cy="161.31" r="1.3"/>
<circle cx="232.86" cy="157.11" r="1.3"/>
<circle cx="230.76" cy="159.56" r="1.3"/>
<circle cx="222.70" cy="158.51" r="1.3"/>
<circle cx="225.15" cy="159.21" r="1.3"/>
<circle cx="226.55" cy="160.61" r="1.3"/>
<circle cx="224.10" cy="157.11" r="1.3"/>
<circle cx="232.51" cy="163.07" r="1.3"/>
<circle cx="236.01" cy="162.36" r="1.3"/>
<circle cx="223.75" cy="163.77" r="1.3"/>
<circle cx="229.01" cy="165.38" r="1.3"/>
<circle cx="225.85" cy="162.01" r="1.3"/>
<circle cx="224.10" cy="130.70" r="1.3"/>
<circle cx="229.01" cy="130.70" r="1.3"/>
<circle cx="228.31" cy="132.94" r="1.3"/>
<circle cx="236.36" cy="133.50" r="1.3"/>
<circle cx="238.12" cy="134.55" r="1.3"/>
<circle cx="222.70" cy="137.71" r="1.3"/>
<circle cx="224.45" cy="139.46" r="1.3"/>
<circle cx="227.61" cy="138.41" r="1.3"/>
<circle cx="229.01" cy="138.41" r="1.3"/>
<circle cx="231.11" cy="141.21" r="1.3"/>
<circle cx="232.51" cy="140.16" r="1.3"/>
<circle cx="233.91" cy="137.01" r="1.3"/>
<circle cx="236.01" cy="137.71" r="1.3"/>
<circle cx="236.72" cy="139.81" r="1.3"/>
<circle cx="238.82" cy="140.51" r="1.3"/>
<circle cx="239.17" cy="142.26" r="1.3"/>
<circle cx="226.91" cy="142.96" r="1.3"/>
<circle cx="222.35" cy="144.72" r="1.3"/>
<circle cx="235.31" cy="144.72" r="1.3"/>
<circle cx="236.72" cy="143.66" r="1.3"/>
<circle cx="243.02" cy="139.11" r="1.3"/>
<circle cx="244.42" cy="139.81" r="1.3"/>
<circle cx="246.88" cy="140.51" r="1.3"/>
<circle cx="248.28" cy="140.16" r="1.3"/>
<circle cx="247.93" cy="136.87" r="1.3"/>
<circle cx="250.03" cy="142.96" r="1.3"/>
<circle cx="252.48" cy="143.66" r="1.3"/>
<circle cx="252.83" cy="142.61" r="1.3"/>
<circle cx="255.49" cy="141.35" r="1.3"/>
<circle cx="243.02" cy="143.31" r="1.3"/>
<circle cx="243.37" cy="145.07" r="1.3"/>
<circle cx="244.07" cy="130.70" r="1.3"/>
<circle cx="250.03" cy="131.96" r="1.3"/>
<circle cx="257.74" cy="130.56" r="1.3"/>
<circle cx="251.78" cy="135.47" r="1.3"/>
<circle cx="253.88" cy="133.15" r="1.3"/>
<circle cx="255.64" cy="134.91" r="1.3"/>
<circle cx="264.39" cy="134.91" r="1.3"/>
<circle cx="267.90" cy="135.61" r="1.3"/>
<circle cx="268.60" cy="132.80" r="1.3"/>
<circle cx="266.15" cy="130.35" r="1.3"/>
<circle cx="267.90" cy="146.26" r="1.3"/>
<circle cx="226.20" cy="147.17" r="1.3"/>
<circle cx="232.51" cy="147.17" r="1.3"/>
<circle cx="236.01" cy="147.17" r="1.3"/>
<circle cx="245.12" cy="147.38" r="1.3"/>
<circle cx="230.41" cy="112.00" r="1.3"/>
<circle cx="240.22" cy="112.84" r="1.3"/>
<circle cx="248.63" cy="112.56" r="1.3"/>
<circle cx="260.54" cy="112.00" r="1.3"/>
<circle cx="267.90" cy="112.56" r="1.3"/>
<circle cx="232.51" cy="115.64" r="1.3"/>
<circle cx="244.07" cy="114.80" r="1.3"/>
<circle cx="246.88" cy="114.80" r="1.3"/>
<circle cx="248.98" cy="115.85" r="1.3"/>
<circle cx="255.28" cy="116.91" r="1.3"/>
<circle cx="258.44" cy="119.36" r="1.3"/>
<circle cx="260.54" cy="117.61" r="1.3"/>
<circle cx="262.29" cy="117.96" r="1.3"/>
<circle cx="263.69" cy="118.66" r="1.3"/>
<circle cx="233.91" cy="118.66" r="1.3"/>
<circle cx="234.96" cy="120.06" r="1.3"/>
<circle cx="238.12" cy="119.85" r="1.3"/>
<circle cx="240.92" cy="120.06" r="1.3"/>
<circle cx="241.62" cy="120.76" r="1.3"/>
<circle cx="244.77" cy="120.06" r="1.3"/>
<circle cx="243.37" cy="122.16" r="1.3"/>
<circle cx="224.66" cy="121.25" r="1.3"/>
<circle cx="230.76" cy="121.81" r="1.3"/>
<circle cx="232.16" cy="122.86" r="1.3"/>
<circle cx="233.21" cy="124.96" r="1.3"/>
<circle cx="235.31" cy="124.96" r="1.3"/>
<circle cx="234.61" cy="127.07" r="1.3"/>
<circle cx="237.42" cy="127.77" r="1.3"/>
<circle cx="251.08" cy="123.91" r="1.3"/>
<circle cx="252.13" cy="125.31" r="1.3"/>
<circle cx="253.88" cy="124.26" r="1.3"/>
<circle cx="256.34" cy="125.66" r="1.3"/>
<circle cx="257.39" cy="127.07" r="1.3"/>
<circle cx="248.28" cy="128.12" r="1.3"/>
<circle cx="265.80" cy="127.77" r="1.3"/>
<circle cx="266.15" cy="129.17" r="1.3"/>
<circle cx="225.15" cy="128.82" r="1.3"/>
<circle cx="230.06" cy="128.82" r="1.3"/>
<circle cx="233.91" cy="129.17" r="1.3"/>
<circle cx="243.72" cy="129.38" r="1.3"/>
<circle cx="258.09" cy="129.38" r="1.3"/>
<circle cx="248.98" cy="96.94" r="1.3"/>
<circle cx="257.04" cy="99.26" r="1.3"/>
<circle cx="268.60" cy="99.26" r="1.3"/>
<circle cx="257.39" cy="103.46" r="1.3"/>
<circle cx="267.41" cy="103.32" r="1.3"/>
<circle cx="245.82" cy="102.55" r="1.3"/>
<circle cx="243.37" cy="103.95" r="1.3"/>
<circle cx="247.93" cy="108.15" r="1.3"/>
<circle cx="237.42" cy="109.28" r="1.3"/>
<circle cx="262.50" cy="111.52" r="1.3"/>
<circle cx="262.62" cy="61.99" r="1.3"/>
<circle cx="301.49" cy="73.11" r="1.3"/>
<circle cx="288.79" cy="79.08" r="1.3"/>
<circle cx="294.02" cy="85.06" r="1.3"/>
<circle cx="279.63" cy="82.82" r="1.3"/>
<circle cx="272.91" cy="94.58" r="1.3"/>
<circle cx="280.51" cy="100.80" r="1.3"/>
<circle cx="271.40" cy="106.05" r="1.3"/>
<circle cx="288.92" cy="111.17" r="1.3"/>
<circle cx="270.56" cy="113.54" r="1.3"/>
<circle cx="275.82" cy="115.99" r="1.3"/>
<circle cx="291.97" cy="139.80" r="1.3"/>
<circle cx="161.88" cy="164.01" r="1.3"/>
<circle cx="165.39" cy="166.35" r="1.3"/>
<circle cx="168.89" cy="162.85" r="1.3"/>
<circle cx="172.39" cy="165.18" r="1.3"/>
<circle cx="170.06" cy="168.69" r="1.3"/>
<circle cx="163.05" cy="169.85" r="1.3"/>
<circle cx="179.40" cy="159.34" r="1.3"/>
<circle cx="181.74" cy="161.68" r="1.3"/>
<circle cx="184.07" cy="160.51" r="1.3"/>
<circle cx="180.57" cy="164.01" r="1.3"/>
<circle cx="185.24" cy="164.01" r="1.3"/>
<circle cx="180.57" cy="169.85" r="1.3"/>
<circle cx="184.07" cy="172.19" r="1.3"/>
<circle cx="187.58" cy="169.85" r="1.3"/>
<circle cx="191.08" cy="172.19" r="1.3"/>
<circle cx="188.74" cy="174.53" r="1.3"/>
<circle cx="149.04" cy="167.52" r="1.3"/>
<circle cx="152.54" cy="169.85" r="1.3"/>
<circle cx="154.88" cy="172.19" r="1.3"/>
<circle cx="150.20" cy="172.19" r="1.3"/>
<circle cx="160.72" cy="173.36" r="1.3"/>
<circle cx="165.39" cy="174.53" r="1.3"/>
<circle cx="168.89" cy="176.86" r="1.3"/>
<circle cx="115.75" cy="183.78" r="1.3"/>
<circle cx="117.50" cy="181.68" r="1.3"/>
<circle cx="129.18" cy="175.84" r="1.3"/>
<circle cx="133.85" cy="177.01" r="1.3"/>
<circle cx="156.04" cy="175.26" r="1.3"/>
<circle cx="159.55" cy="177.01" r="1.3"/>
<circle cx="168.89" cy="176.42" r="1.3"/>
<circle cx="128.01" cy="174.09" r="1.3"/>
<circle cx="184.07" cy="172.34" r="1.3"/>
<circle cx="188.74" cy="171.75" r="1.3"/>
<circle cx="163.11" cy="163.79" r="1.3"/>
<circle cx="166.23" cy="166.13" r="1.3"/>
<circle cx="162.33" cy="169.24" r="1.3"/>
<circle cx="167.78" cy="171.58" r="1.3"/>
<circle cx="164.67" cy="173.91" r="1.3"/>
<circle cx="170.89" cy="159.90" r="1.3"/>
<circle cx="174.79" cy="162.24" r="1.3"/>
<circle cx="172.45" cy="166.13" r="1.3"/>
<circle cx="177.12" cy="165.35" r="1.3"/>
<circle cx="175.56" cy="170.02" r="1.3"/>
<circle cx="170.12" cy="168.46" r="1.3"/>
<circle cx="180.23" cy="158.35" r="1.3"/>
<circle cx="183.35" cy="161.46" r="1.3"/>
<circle cx="187.24" cy="159.90" r="1.3"/>
<circle cx="181.79" cy="166.13" r="1.3"/>
<circle cx="186.46" cy="165.35" r="1.3"/>
<circle cx="190.35" cy="163.79" r="1.3"/>
<circle cx="184.90" cy="170.80" r="1.3"/>
<circle cx="188.79" cy="172.35" r="1.3"/>
<circle cx="180.23" cy="172.35" r="1.3"/>
<circle cx="193.46" cy="151.34" r="1.3"/>
<circle cx="197.35" cy="149.79" r="1.3"/>
<circle cx="201.25" cy="152.12" r="1.3"/>
<circle cx="205.14" cy="150.56" r="1.3"/>
<circle cx="195.02" cy="156.01" r="1.3"/>
<circle cx="198.91" cy="154.46" r="1.3"/>
<circle cx="203.58" cy="156.79" r="1.3"/>
<circle cx="207.47" cy="155.23" r="1.3"/>
<circle cx="196.58" cy="160.68" r="1.3"/>
<circle cx="200.47" cy="159.90" r="1.3"/>
<circle cx="205.14" cy="161.46" r="1.3"/>
<circle cx="209.81" cy="159.90" r="1.3"/>
<circle cx="198.91" cy="164.57" r="1.3"/>
<circle cx="206.69" cy="165.35" r="1.3"/>
<circle cx="132.91" cy="176.46" r="1.3"/>
<circle cx="136.80" cy="174.90" r="1.3"/>
<circle cx="135.25" cy="179.57" r="1.3"/>
<circle cx="112.68" cy="180.35" r="1.3"/>
<circle cx="117.35" cy="179.57" r="1.3"/>
<circle cx="140.69" cy="177.24" r="1.3"/>
<circle cx="145.36" cy="179.57" r="1.3"/>
<circle cx="149.25" cy="177.24" r="1.3"/>
<circle cx="154.24" cy="165.89" r="1.3"/>
<circle cx="158.91" cy="169.01" r="1.3"/>
<circle cx="163.58" cy="166.67" r="1.3"/>
<circle cx="168.25" cy="164.34" r="1.3"/>
<circle cx="157.35" cy="173.68" r="1.3"/>
<circle cx="162.02" cy="176.01" r="1.3"/>
<circle cx="166.69" cy="172.12" r="1.3"/>
<circle cx="170.58" cy="169.79" r="1.3"/>
<circle cx="129.34" cy="172.12" r="1.3"/>
<circle cx="134.01" cy="175.23" r="1.3"/>
</g>
<line x1="264.8" y1="228.4" x2="264.8" y2="2.5" stroke="#ff0000" stroke-width="2.2" stroke-dasharray="8.81 8.81"/>
<line x1="31.7" y1="94.952" x2="338.6" y2="94.952" stroke="#ff0000" stroke-width="2.2" stroke-dasharray="8.81 8.81"/>
<path d="M31.55 2.9 V228.4 H338.3" fill="none" stroke="#222" stroke-width="1.07" stroke-linejoin="round" stroke-linecap="round"/>
<line x1="29.0" y1="218.45" x2="31.7" y2="218.45" stroke="#333" stroke-width="1.1"/>
<text x="27.2" y="222.30" text-anchor="end" class="tk">0</text>
<line x1="29.0" y1="177.28" x2="31.7" y2="177.28" stroke="#333" stroke-width="1.1"/>
<text x="27.2" y="181.13" text-anchor="end" class="tk">2</text>
<line x1="29.0" y1="136.12" x2="31.7" y2="136.12" stroke="#333" stroke-width="1.1"/>
<text x="27.2" y="139.97" text-anchor="end" class="tk">4</text>
<line x1="29.0" y1="94.95" x2="31.7" y2="94.95" stroke="#333" stroke-width="1.1"/>
<text x="27.2" y="98.80" text-anchor="end" class="tk">6</text>
<line x1="29.0" y1="53.79" x2="31.7" y2="53.79" stroke="#333" stroke-width="1.1"/>
<text x="27.2" y="57.64" text-anchor="end" class="tk">8</text>
<line x1="29.0" y1="12.62" x2="31.7" y2="12.62" stroke="#333" stroke-width="1.1"/>
<text x="27.2" y="16.47" text-anchor="end" class="tk">10</text>
<line x1="45.46" y1="228.4" x2="45.46" y2="231.1" stroke="#333" stroke-width="1.1"/>
<text x="45.46" y="240.4" text-anchor="middle" class="tk">20</text>
<line x1="85.34" y1="228.4" x2="85.34" y2="231.1" stroke="#333" stroke-width="1.1"/>
<text x="85.34" y="240.4" text-anchor="middle" class="tk">40</text>
<line x1="125.22" y1="228.4" x2="125.22" y2="231.1" stroke="#333" stroke-width="1.1"/>
<text x="125.22" y="240.4" text-anchor="middle" class="tk">60</text>
<line x1="165.10" y1="228.4" x2="165.10" y2="231.1" stroke="#333" stroke-width="1.1"/>
<text x="165.10" y="240.4" text-anchor="middle" class="tk">80</text>
<line x1="204.98" y1="228.4" x2="204.98" y2="231.1" stroke="#333" stroke-width="1.1"/>
<text x="204.98" y="240.4" text-anchor="middle" class="tk">100</text>
<line x1="244.86" y1="228.4" x2="244.86" y2="231.1" stroke="#333" stroke-width="1.1"/>
<text x="244.86" y="240.4" text-anchor="middle" class="tk">120</text>
<line x1="284.74" y1="228.4" x2="284.74" y2="231.1" stroke="#333" stroke-width="1.1"/>
<text x="284.74" y="240.4" text-anchor="middle" class="tk">140</text>
<line x1="324.62" y1="228.4" x2="324.62" y2="231.1" stroke="#333" stroke-width="1.1"/>
<text x="324.62" y="240.4" text-anchor="middle" class="tk">160</text>
<text x="185.1" y="253.9" text-anchor="middle" class="ti">Cadence (steps/min)</text>
<text transform="translate(11.2 115.6) rotate(-90)" text-anchor="middle" class="ti">METs</text>
<text x="-0.4" y="12.6" class="lab">B</text>
<line x1="118.15" y1="62.4" x2="118.15" y2="7.0" stroke="#ff0000" stroke-width="1.29" stroke-dasharray="5.145 5.145"/>
<line x1="65.6" y1="34.6" x2="170.4" y2="34.6" stroke="#ff0000" stroke-width="1.29" stroke-dasharray="5.145 5.145"/>
<path d="M65.6 7.0 V62.4 H170.4" fill="none" stroke="#333" stroke-width="1.0" stroke-linejoin="round"/>
<line x1="62.89999999999999" y1="34.6" x2="65.6" y2="34.6" stroke="#333" stroke-width="1.1"/>
<line x1="118.15" y1="62.4" x2="118.15" y2="64.4" stroke="#333" stroke-width="1.1"/>
<text x="61.3" y="37.8" text-anchor="end" class="it">6 METs</text>
<text x="118.1" y="72.2" text-anchor="middle" class="it">130 steps/min</text>
<text x="93.8" y="20.3" text-anchor="middle" class="sm">False Negatives</text>
<text x="95.2" y="29.2" text-anchor="middle" class="sm">n=1, 0.2%</text>
<text x="141.4" y="20.3" text-anchor="middle" class="sm">True Positives</text>
<text x="142.7" y="29.2" text-anchor="middle" class="sm">n=5, 0.9%</text>
<text x="93.7" y="45.55" text-anchor="middle" class="sm">True Negatives</text>
<text x="95.1" y="53.8" text-anchor="middle" class="sm">n=544, 96.5%</text>
<text x="141.2" y="45.55" text-anchor="middle" class="sm">False Positives</text>
<text x="142.5" y="54.1" text-anchor="middle" class="sm">n=14, 2.5%</text></g>
</svg>
</body></html>
